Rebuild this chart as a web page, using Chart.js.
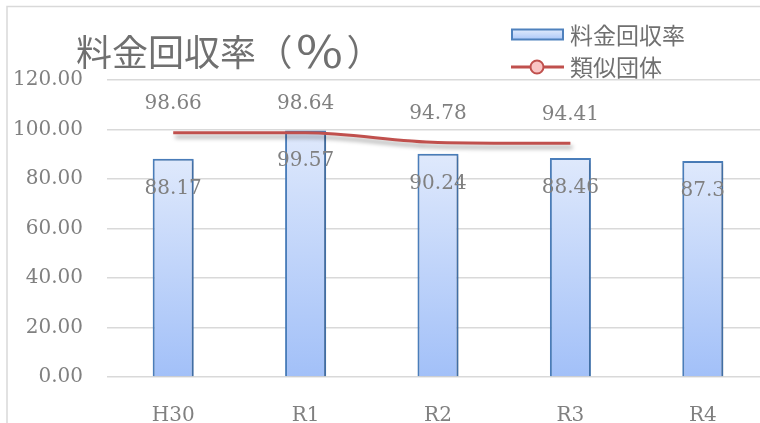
<!DOCTYPE html>
<html>
<head>
<meta charset="utf-8">
<script src="https://cdn.jsdelivr.net/npm/chart.js@4.4.1/dist/chart.umd.min.js"></script>
<style>
  html, body { margin: 0; padding: 0; background: #ffffff; }
  #wrap { width: 760px; height: 423px; overflow: hidden; position: relative; background: #fff; }
  canvas { display: block; }
</style>
</head>
<body>
<div id="wrap"><canvas id="c" width="770" height="423"></canvas></div>
<script>
const categories = ['H30', 'R1', 'R2', 'R3', 'R4'];
const recoveryRate = [88.17, 99.57, 90.24, 88.46, 87.3];
const similarGroups = [98.66, 98.64, 94.78, 94.41, null];
const yMin = 0, yMax = 120, yStep = 20;
const titleParts = ['料金回収率', '（', '％', '）'];
const seriesNames = ['料金回収率', '類似団体'];

const serif = '"DejaVu Serif", "Liberation Serif", serif';
const sans = '"Noto Sans CJK JP", "Noto Sans", sans-serif';
const textGray = '#808080';

function barGradient(ctx) {
  const chart = ctx.chart;
  if (!chart.chartArea || ctx.raw == null) return '#c4d8f9';
  const ys = chart.scales.y;
  const top = ys.getPixelForValue(ctx.raw);
  const bottom = ys.getPixelForValue(0);
  const g = chart.ctx.createLinearGradient(0, top, 0, bottom);
  g.addColorStop(0, '#dfe9fc');
  g.addColorStop(1, '#a2c0f8');
  return g;
}

function inkLeft(c, s, x, y) {
  const m = c.measureText(s);
  c.fillText(s, x + m.actualBoundingBoxLeft, y);
}
function inkCenter(c, s, cx, y) {
  const m = c.measureText(s);
  const w = m.actualBoundingBoxRight + m.actualBoundingBoxLeft;
  c.fillText(s, cx - w / 2 + m.actualBoundingBoxLeft, y);
}

const decorPlugin = {
  id: 'decor',
  beforeDraw(chart) {
    const c = chart.ctx;
    c.save();
    c.strokeStyle = '#d9d9d9';
    c.lineWidth = 1.5;
    c.beginPath();
    c.moveTo(7, 423);
    c.lineTo(7, 6.5);
    c.lineTo(770, 6.5);
    c.stroke();
    // title
    c.fillStyle = '#707070';
    c.font = '36px ' + sans;
    c.textAlign = 'left';
    c.textBaseline = 'middle';
    inkLeft(c, titleParts[0], 77, 52);
    inkCenter(c, titleParts[1], 286.5, 52);
    c.save();
    c.translate(319.5, 52);
    c.scale(1.4, 1.2);
    inkCenter(c, titleParts[2], 0, 0);
    c.restore();
    inkCenter(c, titleParts[3], 352.5, 52);
    // legend
    const lg = c.createLinearGradient(0, 29, 0, 40);
    lg.addColorStop(0, '#e3ecfc');
    lg.addColorStop(1, '#a9c6f8');
    c.fillStyle = lg;
    c.fillRect(512, 29.5, 51, 10);
    c.strokeStyle = '#4f81bd';
    c.lineWidth = 2;
    c.strokeRect(512, 29.5, 51, 10);
    c.strokeStyle = '#c0504d';
    c.lineWidth = 3;
    c.beginPath();
    c.moveTo(511, 67);
    c.lineTo(564, 67);
    c.stroke();
    c.beginPath();
    c.arc(537, 67, 6.5, 0, Math.PI * 2);
    c.fillStyle = '#f9c4c4';
    c.fill();
    c.lineWidth = 2;
    c.stroke();
    c.fillStyle = '#707070';
    c.font = '23px ' + sans;
    inkLeft(c, seriesNames[0], 570, 35);
    inkLeft(c, seriesNames[1], 570, 67);
    c.restore();
  },
  beforeDatasetDraw(chart, args) {
    const c = chart.ctx;
    c.save();
    if (args.meta.type === 'line') {
      c.shadowColor = 'rgba(0,0,0,0.35)';
      c.shadowBlur = 4;
      c.shadowOffsetX = 2;
      c.shadowOffsetY = 4;
    } else {
      c.shadowColor = 'rgba(0,0,0,0.25)';
      c.shadowBlur = 3;
      c.shadowOffsetX = 1.5;
      c.shadowOffsetY = 1.5;
    }
  },
  afterDatasetDraw(chart) {
    chart.ctx.restore();
  },
  afterDatasetsDraw(chart) {
    const c = chart.ctx;
    c.save();
    c.fillStyle = textGray;
    c.font = '20px ' + serif;
    c.textAlign = 'center';
    c.textBaseline = 'middle';
    chart.data.datasets.forEach((ds, di) => {
      const meta = chart.getDatasetMeta(di);
      meta.data.forEach((el, i) => {
        const v = ds.data[i];
        if (v == null) return;
        const y = meta.type === 'bar' ? el.y + 30 : el.y - 29;
        c.fillText(String(v), el.x, y);
      });
    });
    c.restore();
  }
};

new Chart(document.getElementById('c'), {
  data: {
    labels: categories,
    datasets: [
      {
        type: 'line',
        label: seriesNames[1],
        data: similarGroups,
        borderColor: '#c0504d',
        borderWidth: 3,
        pointRadius: 0,
        cubicInterpolationMode: 'monotone',
        fill: false,
        order: 0
      },
      {
        type: 'bar',
        label: seriesNames[0],
        data: recoveryRate,
        backgroundColor: barGradient,
        borderColor: '#4a7ebb',
        borderWidth: 2,
        categoryPercentage: 1,
        barPercentage: 0.31,
        order: 1
      }
    ]
  },
  options: {
    responsive: false,
    animation: false,
    devicePixelRatio: 1,
    layout: { padding: { top: 80, left: 0, right: 1, bottom: 0 } },
    plugins: { legend: { display: false }, tooltip: { enabled: false }, title: { display: false } },
    scales: {
      x: {
        grid: { display: false },
        border: { display: false },
        ticks: { color: textGray, font: { family: serif, size: 20 }, padding: 19 },
        afterFit(s) { s.height = 46; }
      },
      y: {
        min: yMin, max: yMax,
        grid: { color: '#d9d9d9', lineWidth: 1.5, drawTicks: false },
        border: { display: false },
        ticks: {
          stepSize: yStep,
          color: textGray,
          font: { family: serif, size: 20 },
          padding: 24,
          callback: v => Number(v).toFixed(2)
        },
        afterFit(s) { s.width = 107; }
      }
    }
  },
  plugins: [decorPlugin]
});
</script>
</body>
</html>
